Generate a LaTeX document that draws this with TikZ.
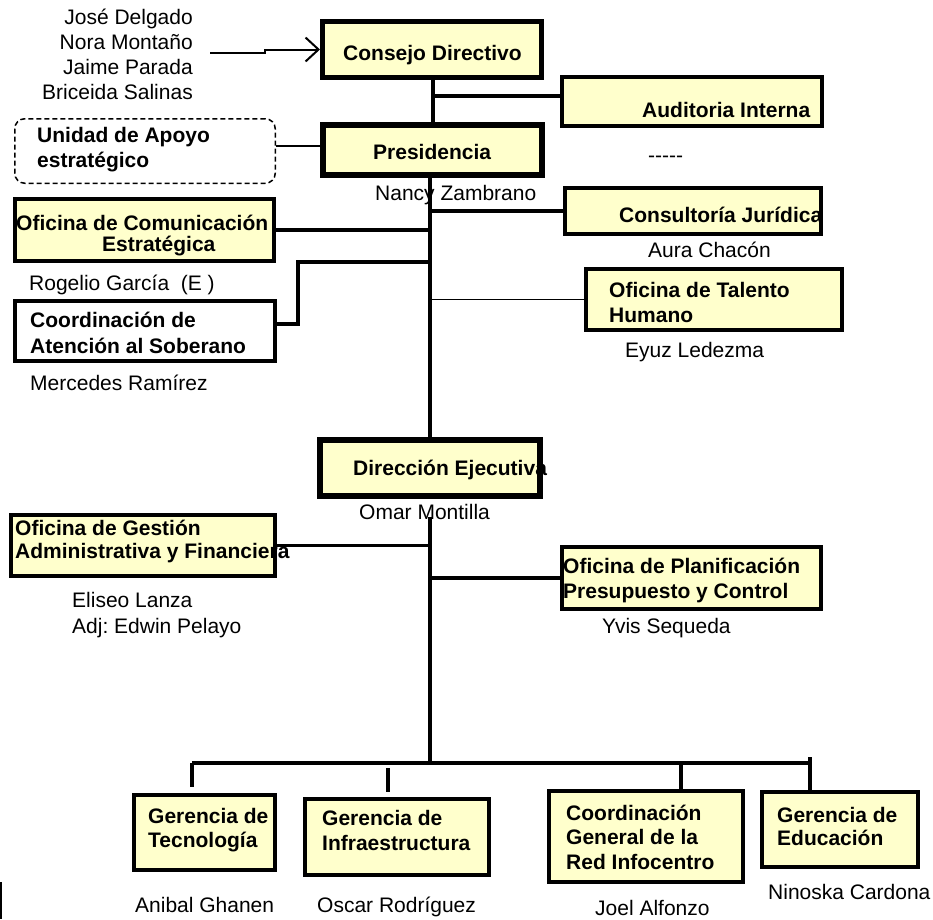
\documentclass[tikz,border=0pt]{standalone}
\usepackage{fontspec}
\setmainfont{Liberation Sans}
\usetikzlibrary{arrows.meta,calc}
\definecolor{boxfill}{HTML}{FFFFCC}
\frenchspacing
\begin{document}
\begin{tikzpicture}[x=1pt,y=-1pt,
  box/.style={draw, line width=4pt, fill=boxfill, inner sep=0pt, outer sep=2pt},
  heavy/.style={box, line width=6pt, outer sep=3pt},
  dashbox/.style={draw, line width=1.5pt, dash pattern=on 5pt off 3pt, rounded corners=10pt, inner sep=0pt, outer sep=0.75pt},
  txt/.style={inner sep=0pt, anchor=base west, align=left, font=\fontsize{21}{25}\selectfont},
  btxt/.style={txt, font=\fontsize{21}{25}\selectfont\bfseries},
  conn/.style={line width=3.5pt},
  mainline/.style={line width=4pt},
  thinline/.style={line width=1.5pt},
  arr/.style={line width=2pt, -{Straight Barb[length=13pt,width=24pt,line width=2pt]}}
]
\useasboundingbox (0,0) rectangle (933,919);

% boxes
\node[box, line width=5pt, outer sep=2.5pt, minimum width=219pt, minimum height=56pt] (cd) at (432,49.5) {};
\node[box, minimum width=260pt, minimum height=49pt] (aud) at (692,101.5) {};
\node[heavy, minimum width=219pt, minimum height=50pt] (pres) at (432.5,150) {};
\node[dashbox, minimum width=260.5pt, minimum height=64.5pt] (uae) at (145,151) {};
\node[box, minimum width=259pt, minimum height=62pt] (com) at (144.5,230) {};
\node[box, minimum width=256pt, minimum height=46pt] (cjur) at (693,211) {};
\node[box, fill=white, minimum width=260pt, minimum height=60pt] (cas) at (145,331) {};
\node[box, minimum width=256pt, minimum height=61pt] (tal) at (714,299.5) {};
\node[heavy, minimum width=220pt, minimum height=56pt] (dir) at (430,468) {};
\node[box, minimum width=264pt, minimum height=61pt] (ges) at (143,545.5) {};
\node[box, minimum width=259pt, minimum height=62pt] (pla) at (691.5,578) {};
\node[box, minimum width=141pt, minimum height=75pt] (tec) at (204.5,832.5) {};
\node[box, minimum width=184pt, minimum height=76pt] (inf) at (397,837) {};
\node[box, minimum width=194pt, minimum height=91pt] (cgr) at (646,836.5) {};
\node[box, minimum width=156pt, minimum height=75pt] (edu) at (840,829.5) {};

% texts (multi-line nodes are anchored at the baseline of their last line)
\node[txt, anchor=base east, align=right] (members) at (193,99) {José Delgado\\Nora Montaño\\Jaime Parada\\Briceida Salinas};
\node[btxt] (tcd) at (343,60) {Consejo Directivo};
\node[btxt] (taud) at (642,117) {Auditoria Interna};
\node[btxt] (tuae) at (37,167) {Unidad de Apoyo\\estratégico};
\node[btxt] (tpres) at (373,159) {Presidencia};
\node[txt] (tdash) at (648,162) {-{}-{}-{}-{}-};
\node[txt] (tnancy) at (375,200) {Nancy Zambrano};
\node[btxt] (tcom1) at (16,230) {Oficina de Comunicación};
\node[btxt] (tcom2) at (102,251) {Estratégica};
\node[btxt] (tcjur) at (619,222) {Consultoría Jurídica};
\node[txt] (taura) at (648,257) {Aura Chacón};
\node[txt] (trog) at (29,290) {Rogelio García\ \ (E\ )};
\node[btxt] (tcas) at (30,353) {Coordinación de\\[1pt]Atención al Soberano};
\node[btxt] (ttal) at (609,322) {Oficina de Talento\\Humano};
\node[txt] (tmer) at (30,390) {Mercedes Ramírez};
\node[txt] (teyuz) at (625,357) {Eyuz Ledezma};
\node[btxt] (tdir) at (353,475) {Dirección Ejecutiva};
\node[txt] (tomar) at (359,519) {Omar Montilla};
\node[btxt] (tges) at (15,558) {Oficina de Gestión\\[-2pt]Administrativa y Financiera};
\node[btxt] (tpla) at (563,598) {Oficina de Planificación\\Presupuesto y Control};
\node[txt] (telis) at (72,633) {Eliseo Lanza\\[1pt]Adj: Edwin Pelayo};
\node[txt] (tyvis) at (602,633) {Yvis Sequeda};
\node[btxt] (ttec) at (148,847) {Gerencia de\\[-1pt]Tecnología};
\node[btxt] (tinf) at (322,850) {Gerencia de\\Infraestructura};
\node[btxt] (tcgr) at (566,869) {Coordinación\\[-0.5pt]General de la\\[-0.5pt]Red Infocentro};
\node[btxt] (tedu) at (777,845) {Gerencia de\\[-2pt]Educación};
\node[txt] (tani) at (135,912) {Anibal Ghanen};
\node[txt] (tosc) at (317,912) {Oscar Rodríguez};
\node[txt] (tjoel) at (595,915) {Joel Alfonzo};
\node[txt] (tnin) at (768,899) {Ninoska Cardona};

% connectors
\coordinate (mx) at (430,0);
\coordinate (arrS) at (210,53);
\draw[arr] (arrS) -- ++(55,0) |- (cd.west);
\draw[conn] ([xshift=1pt]cd.south) -- ([xshift=1pt]cd.south |- pres.north);
\coordinate (jaud) at (433,96);
\draw[conn] (jaud) -- (jaud -| aud.west);
\draw[thinline] ([yshift=5pt]uae.east) -- ([yshift=5pt]uae.east -| pres.west);
\draw[mainline] (pres.south -| mx) -- (dir.north -| mx);
\draw[conn] (com.east) -- (com.east -| mx);
\draw[conn] (cjur.west -| mx) -- (cjur.west);
\coordinate (jcas) at (430,262);
\draw[conn] (jcas) -- ++(-132,0) |- ([yshift=7pt]cas.east);
\draw[thinline] (tal.west -| mx) -- (tal.west);
\coordinate (omtop) at (430,517);
\coordinate (busC) at (430,763);
\draw[mainline] (omtop) -- (busC);
\draw[conn] (ges.east) -- (ges.east -| mx);
\draw[conn] (pla.west -| mx) -- (pla.west);
\coordinate (busL) at (192,763);
\coordinate (busR) at (812,763);
\draw[conn] (busL) -- (busR);
\draw[conn] (busL) -- ++(0,24);
\coordinate (jinf) at (388,768);
\draw[conn] (jinf) -- ++(0,24);
\coordinate (jcgr) at (681,763);
\draw[conn] (jcgr) -- (jcgr |- cgr.north);
\coordinate (jedu) at (810,757);
\draw[conn] (jedu) -- ++(0,36);
\coordinate (stray) at (1,882);
\draw[thinline] (stray) -- ++(0,37);
\end{tikzpicture}
\end{document}
